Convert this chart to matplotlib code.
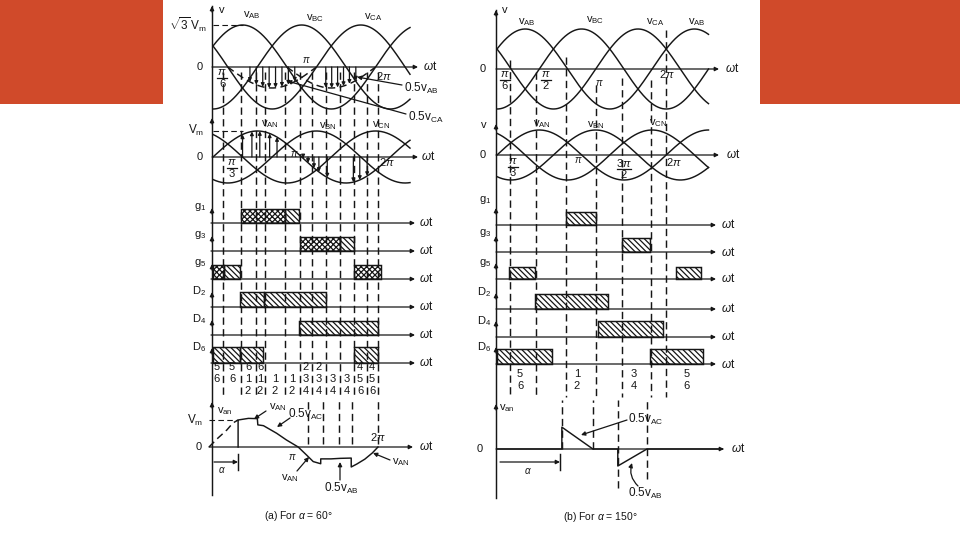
import numpy as np
import matplotlib.pyplot as plt

plt.rcParams['font.family'] = ['Liberation Sans', 'DejaVu Sans']
plt.rcParams['mathtext.fontset'] = 'custom'
plt.rcParams['mathtext.rm'] = 'Liberation Sans'
plt.rcParams['mathtext.it'] = 'Liberation Sans:italic'
plt.rcParams['mathtext.sf'] = 'Liberation Sans'
plt.rcParams['hatch.linewidth'] = 0.9

# === valores (angulos en grados, tensiones en p.u.) ===
line_names = ['AB', 'BC', 'CA']
line_shift = [30, -90, -210]          # v_AB, v_BC, v_CA
phase_names = ['AN', 'BN', 'CN']
phase_shift = [0, -120, -240]         # v_AN, v_BN, v_CN

# --- (a) alpha = 60 ---
a_span = 400
a_half_ca = [30, 210]                 # tramo de 0.5 v_CA (discontinuo)
a_half_ab = [150, 330]                # tramo de 0.5 v_AB (discontinuo)
a_arrows_ca = [75, 88, 101, 114, 127, 140, 153, 166]
a_arrows_ab = [229, 241, 253, 265, 277, 290]
a_up_an = [60, 79, 95, 115, 130]
a_down_an = [183, 193, 205, 215, 232, 285, 298, 313]
a_dash = [20, 57, 87, 106, 146, 177, 201, 230, 258, 286, 313, 335]
a_dash_low = [211, 243, 277, 305, 360]

a_g1_x, a_g1_s = [(57, 146)], [(146, 175)]
a_g3_x, a_g3_s = [(177, 258)], [(258, 287)]
a_g5_x, a_g5_s = [(0, 22), (286, 341)], [(22, 55)]
a_d2 = [(55, 104), (104, 229)]
a_d4 = [(175, 335)]
a_d6 = [(0, 55), (55, 102), (286, 335)]

a_seg_top = ['5', '5', '6', '6', '', '', '2', '2', '', '', '4', '4']
a_seg_mid = ['6', '6', '1', '1', '1', '1', '3', '3', '3', '3', '5', '5']
a_seg_bot = ['', '', '2', '2', '2', '2', '4', '4', '4', '4', '6', '6']

a_rise_deg = [0, 19, 38, 51, 62]
a_rise_v = [0, 0.33, 0.63, 0.89, 1.0]
a_van_deg = [62, 62, 84, 103, 104, 116, 144, 165, 190, 208, 222, 238, 238,
             260, 280, 303, 303, 315, 332, 348, 360]
a_van_v = [0, 1.0, 1.06, 1.05, 0.82, 0.79, 0.51, 0.26, 0.0, -0.30, -0.54, -0.62, -0.44,
           -0.44, -0.42, -0.41, -0.74, -0.63, -0.45, -0.22, 0.0]

# --- (b) alpha = 150 ---
b_span = 450
b_dash = [28, 83, 147, 211, 266, 328, 360]
b_dash_top = [60, 72, 57, 85, 78, 80, 30]
b_dash_low = [138, 204, 257, 319]
b_dash_low_end = [0.0, 0.0, -1.45, -1.1]

b_g1 = [(147, 211)]
b_g3 = [(266, 326)]
b_g5 = [(26, 81), (381, 434)]
b_d2 = [(81, 236)]
b_d4 = [(215, 353)]
b_d6 = [(0, 117), (326, 438)]

b_seg_top = ['5', '1', '3', '5']
b_seg_bot = ['6', '2', '4', '6']

b_van_deg = [0, 138, 138, 204, 257, 257, 319, 480]
b_van_v = [0, 0, 0.81, 0, 0, -0.63, 0, 0]

# === figura ===
W, H = 960, 540
INK = '#161616'
LW = 1.05
DASH = (0, (5, 3))
fig = plt.figure(figsize=(W / 100, H / 100), dpi=100)
pix = fig.add_axes([0, 0, 1, 1])
pix.set_xlim(0, W)
pix.set_ylim(H, 0)
pix.set_axis_off()

for l, r in [(0, 163), (760, 960)]:
    pix.add_patch(plt.Rectangle((l, 0), r - l, 104, color='#d04a2a', lw=0))


def row_axes(x0, ppd, y0, ppu, l, t, r, b):
    ax = fig.add_axes([l / W, 1 - b / H, (r - l) / W, (b - t) / H])
    ax.set_xlim((l - x0) / ppd, (r - x0) / ppd)
    ax.set_ylim((y0 - b) / ppu, (y0 - t) / ppu)
    ax.set_axis_off()
    ax.patch.set_alpha(0)
    return ax


def overlay(x0, ppd, l, r):
    ax = fig.add_axes([l / W, 0, (r - l) / W, 1])
    ax.set_xlim((l - x0) / ppd, (r - x0) / ppd)
    ax.set_ylim(H, 0)
    ax.set_axis_off()
    ax.patch.set_alpha(0)
    return ax


def arr(ax, x1, y1, x2, y2, ms=6, lw=0.9, rad=0.0):
    ax.annotate('', xy=(x2, y2), xytext=(x1, y1), annotation_clip=False,
                arrowprops=dict(arrowstyle='-|>', color=INK, lw=lw, mutation_scale=ms,
                                shrinkA=0, shrinkB=0, connectionstyle=f'arc3,rad={rad}'))


def txt(x, y, s, size=8, ha='center', va='center'):
    pix.text(x, y, s, fontsize=size, ha=ha, va=va, color=INK)


def sub(base, idx):
    return r'$\mathregular{' + base + '_{' + idx + '}}$'


def frac(x, y, num, den, half=5):
    # fraccion apilada como en el dibujo original
    txt(x, y - 6, num, 8)
    pix.plot([x - half, x + half], [y, y], color=INK, lw=0.9)
    txt(x, y + 6, den, 8)


def gate_row(x0, ppd, base, hgt, l, r, cross, plain, name, name_x, name_y, arrow_end, wt_x):
    ax = row_axes(x0, ppd, base, hgt, l, base - hgt - 8, r, base + 3)
    for a, b in cross:
        ax.bar(a, 1, b - a, align='edge', fill=False, hatch='xxxxxx', ec=INK, lw=LW)
    for a, b in plain:
        ax.bar(a, 1, b - a, align='edge', fill=False, hatch='\\\\\\\\\\\\', ec=INK, lw=LW)
    arr(pix, l + 6, base, arrow_end, base)
    txt(wt_x, base, r'$\omega$t', 8.5)
    txt(name_x, name_y, name, 8, ha='right')


def vline_with_heads(x, top, bottom, heads):
    pix.plot([x, x], [top, bottom], color=INK, lw=LW)
    for y in heads:
        arr(pix, x, y + 6, x, y, ms=6)


PI = r'$\pi$'

# ================= panel (a) =================
AX0, APPD = 213, 0.4925
vline_with_heads(212, 6, 495, [6, 118, 208, 236, 264, 292, 320, 348, 402])

ax1 = row_axes(AX0, APPD, 67, 42, 205, 8, 420, 115)
th = np.linspace(0, a_span, 600)
for s in line_shift:
    ax1.plot(th, np.sin(np.radians(th + s)), color=INK, lw=LW)
t_ca = np.linspace(*a_half_ca, 200)
ax1.plot(t_ca, 0.5 * np.sin(np.radians(t_ca - 210)), color=INK, lw=LW, ls=DASH)
t_ab = np.linspace(*a_half_ab, 200)
ax1.plot(t_ab, 0.5 * np.sin(np.radians(t_ab + 30)), color=INK, lw=LW, ls=DASH)
for d in a_arrows_ca:
    arr(ax1, d, 0, d, 0.5 * np.sin(np.radians(d - 210)), ms=5, lw=0.9)
for d in a_arrows_ab:
    arr(ax1, d, 0, d, 0.5 * np.sin(np.radians(d + 30)), ms=5, lw=0.9)
ax1.plot([0, 60], [1, 1], color=INK, lw=0.8, ls=DASH)
arr(pix, 212, 67, 418, 67)
txt(222, 10, 'v', 8)
txt(206, 25, r'$\sqrt{3}\,\mathregular{V_m}$', 8.5, ha='right')
txt(203, 67, '0', 8, ha='right')
for name, x, y in zip(line_names, [252, 315, 373], [15, 18, 17]):
    txt(x, y, sub('v', name), 8)
frac(222, 78, PI, '6')
txt(306, 60, PI, 7)
txt(384, 76, r'2$\pi$', 8)
txt(430, 67, r'$\omega$t', 8.5)
txt(404, 88, r'0.5$\mathregular{v_{AB}}$', 8.5, ha='left')
txt(408, 117, r'0.5$\mathregular{v_{CA}}$', 8.5, ha='left')
arr(pix, 402, 85, 357, 77, ms=6)
arr(pix, 406, 114, 287, 81, ms=6)

ax2 = row_axes(AX0, APPD, 157, 26, 205, 118, 420, 190)
for s in phase_shift:
    ax2.plot(th, np.sin(np.radians(th + s)), color=INK, lw=LW)
for d in a_up_an + a_down_an:
    arr(ax2, d, 0, d, np.sin(np.radians(d)), ms=5, lw=0.9)
ax2.plot([0, 60], [1, 1], color=INK, lw=0.8, ls=DASH)
arr(pix, 212, 157, 418, 157)
txt(204, 130, r'$\mathregular{V_m}$', 8.5, ha='right')
txt(203, 157, '0', 8, ha='right')
for name, x, y in zip(phase_names, [270, 328, 381], [124, 126, 125]):
    txt(x, y, sub('v', name), 8)
txt(294, 154, PI, 7)
frac(232, 168, PI, '3')
txt(387, 162, r'2$\pi$', 8)
txt(428, 157, r'$\omega$t', 8.5)

gates_a = [(sub('g', '1'), 223, 14, a_g1_x, a_g1_s, 207),
           (sub('g', '3'), 251, 14, a_g3_x, a_g3_s, 235),
           (sub('g', '5'), 279, 14, a_g5_x, a_g5_s, 263),
           (sub('D', '2'), 307, 15, [], a_d2, 291),
           (sub('D', '4'), 335, 14, [], a_d4, 319),
           (sub('D', '6'), 363, 16, [], a_d6, 347)]
for name, base, hgt, cx, pl, ny in gates_a:
    gate_row(AX0, APPD, base, hgt, 205, 420, cx, pl, name, 206, ny, 415, 426)

ova = overlay(AX0, APPD, 205, 420)
ova.vlines(a_dash, 72, 398, colors=INK, lw=LW, linestyles=DASH)
a_seg_x = [217, 232, 248, 260, 275, 292, 306, 319, 333, 347, 360, 372]
for x, t1, t2, t3 in zip(a_seg_x, a_seg_top, a_seg_mid, a_seg_bot):
    txt(x, 367, t1, 8)
    txt(x, 379, t2, 8)
    txt(x, 391, t3, 8)

ax3 = row_axes(209, 0.4694, 447, 27, 205, 398, 420, 482)
ax3.plot(a_rise_deg, a_rise_v, color=INK, lw=LW, ls=DASH)
ax3.plot([0, 62], [1, 1], color=INK, lw=0.8, ls=DASH)
ax3.plot(a_van_deg, a_van_v, color=INK, lw=LW)
ax3.vlines(a_dash_low, 0.1, 1.75, colors=INK, lw=LW, linestyles=DASH)
arr(pix, 209, 447, 413, 447)
txt(225, 411, sub('v', 'an'), 8)
txt(203, 420, r'$\mathregular{V_m}$', 8.5, ha='right')
txt(202, 447, '0', 8, ha='right')
txt(292, 457, PI, 7)
txt(378, 437, r'2$\pi$', 8)
txt(426, 447, r'$\omega$t', 8.5)
txt(278, 407, sub('v', 'AN'), 8)
arr(pix, 266, 411, 254, 419, ms=6)
txt(306, 414, r'0.5$\mathregular{v_{AC}}$', 8.5)
arr(pix, 290, 418, 277, 427, ms=6)
txt(290, 478, sub('v', 'AN'), 8)
arr(pix, 297, 471, 309, 457, ms=6)
txt(341, 488, r'0.5$\mathregular{v_{AB}}$', 8.5)
arr(pix, 340, 480, 340, 462, ms=6)
txt(401, 462, sub('v', 'AN'), 8)
arr(pix, 390, 460, 373, 453, ms=6)
arr(pix, 214, 462, 238, 462, ms=6)
pix.plot([238, 238], [454, 470], color=INK, lw=LW)
txt(222, 470, r'$\alpha$', 7)
txt(298, 516, r'(a) For $\alpha$ = 60°', 7.5)

# ================= panel (b) =================
BX0, BPPD = 497, 0.47
vline_with_heads(496, 10, 498, [10, 124, 208, 236, 263, 293, 321, 347, 404])

bx1 = row_axes(BX0, BPPD, 69, 40, 490, 8, 725, 115)
thb = np.linspace(0, b_span, 650)
for s in line_shift:
    bx1.plot(thb, np.sin(np.radians(thb + s)), color=INK, lw=LW)
arr(pix, 496, 69, 719, 69)
txt(505, 10, 'v', 8)
txt(486, 69, '0', 8, ha='right')
for name, x, y in zip(line_names + ['AB'], [527, 595, 655, 697], [22, 20, 22, 22]):
    txt(x, y, sub('v', name), 8)
frac(505, 80, PI, '6')
frac(546, 80, PI, '2')
txt(599, 83, PI, 7)
txt(667, 74, r'2$\pi$', 8)
txt(732, 69, r'$\omega$t', 8.5)

bx2 = row_axes(BX0, BPPD, 155, 25, 490, 120, 725, 190)
for s in phase_shift:
    bx2.plot(thb, np.sin(np.radians(thb + s)), color=INK, lw=LW)
arr(pix, 496, 155, 719, 155)
txt(484, 125, 'v', 8)
txt(486, 155, '0', 8, ha='right')
for name, x, y in zip(phase_names, [542, 596, 658], [124, 125, 123]):
    txt(x, y, sub('v', name), 8)
txt(578, 160, PI, 7)
frac(513, 167, PI, '3')
frac(624, 169, r'3$\pi$', '2', half=7)
txt(674, 162, r'2$\pi$', 8)
txt(733, 155, r'$\omega$t', 8.5)

gates_b = [(sub('g', '1'), 225, 13, b_g1, 200),
           (sub('g', '3'), 252, 14, b_g3, 233),
           (sub('g', '5'), 279, 12, b_g5, 263),
           (sub('D', '2'), 309, 15, b_d2, 292),
           (sub('D', '4'), 337, 16, b_d4, 321),
           (sub('D', '6'), 364, 15, b_d6, 347)]
for name, base, hgt, pl, ny in gates_b:
    gate_row(BX0, BPPD, base, hgt, 490, 725, [], pl, name, 491, ny, 716, 728)

ovb = overlay(BX0, BPPD, 490, 725)
ovb.vlines(b_dash, b_dash_top, 397, colors=INK, lw=LW, linestyles=DASH)
for x, t1, t2 in zip([520, 577, 634, 687], b_seg_top, b_seg_bot):
    txt(x, 374, t1, 8)
    txt(x, 386, t2, 8)

bx3 = row_axes(BX0, BPPD, 449, 27, 490, 398, 730, 500)
bx3.plot(b_van_deg, b_van_v, color=INK, lw=LW)
bx3.vlines(b_dash_low, b_dash_low_end, 1.8, colors=INK, lw=LW, linestyles=DASH)
arr(pix, 496, 449, 724, 449)
txt(507, 408, sub('v', 'an'), 8)
txt(483, 449, '0', 8, ha='right')
txt(738, 449, r'$\omega$t', 8.5)
txt(646, 419, r'0.5$\mathregular{v_{AC}}$', 8.5)
arr(pix, 627, 420, 581, 435, ms=6)
txt(645, 493, r'0.5$\mathregular{v_{AB}}$', 8.5)
arr(pix, 638, 486, 632, 463, ms=6, rad=-0.3)
arr(pix, 500, 462, 560, 462, ms=6)
pix.plot([560, 560], [454, 470], color=INK, lw=LW)
txt(528, 471, r'$\alpha$', 7)
txt(600, 517, r'(b) For $\alpha$ = 150°', 7.5)

fig.savefig('out.png', dpi=100, facecolor='white')
